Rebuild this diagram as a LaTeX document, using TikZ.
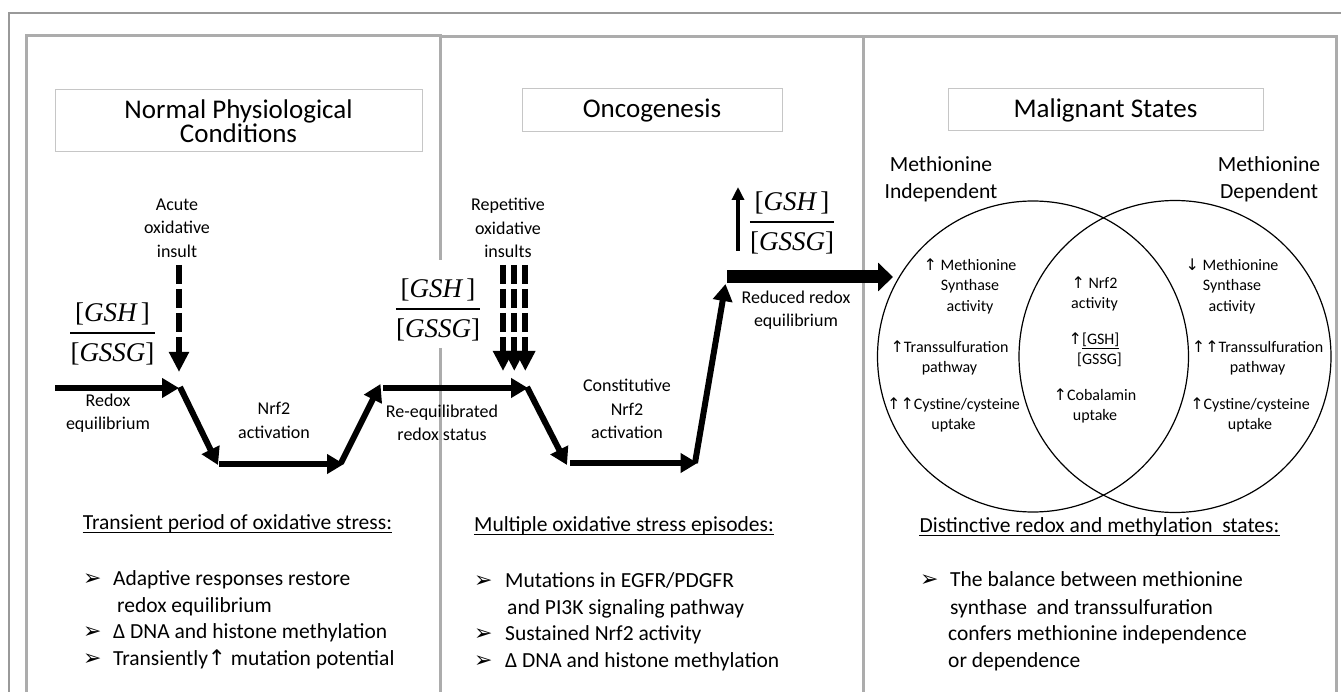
\documentclass[tikz,border=0pt]{standalone}
\usepackage{fontspec}
\setmainfont{Carlito}
\newfontfamily\symfont{DejaVu Sans}
\newfontfamily\arrfont{DejaVu Sans ExtraLight}
\newfontfamily\tmsfont{Liberation Serif}
\usetikzlibrary{arrows.meta,calc}
\newcommand{\ua}{{\symfont ↑}}
\newcommand{\da}{{\symfont ↓}}
\newcommand{\gsratio}[3]{%
  \node[ratio, anchor=south] (#1n) at (#2,#3-8) {[\textit{GSH}\kern3pt]};
  \node[ratio, anchor=north] (#1d) at (#2,#3+10) {[\textit{GSSG}]};
  \draw[line width=1.4pt] ($(#1d.north west)+(0,-10)$) -- ($(#1d.north east)+(0,-10)$);
}
\begin{document}
\begin{tikzpicture}[x=1pt,y=-1pt,
  frame/.style={draw=gray!65, line width=3pt},
  outer/.style={draw=gray!80, line width=1.2pt},
  titlebox/.style={draw=gray!45, line width=1pt, inner sep=0pt, align=center,
    font={\fontsize{27}{24.5}\selectfont\lineskiplimit=-50pt}},
  lbl/.style={inner sep=0pt, align=center, font=\fontsize{18}{23.5}\selectfont},
  venn/.style={inner sep=0pt, align=center, font=\fontsize{16}{20.5}\selectfont},
  vhead/.style={inner sep=0pt, align=center, font=\fontsize{21.6}{27}\selectfont},
  bhead/.style={inner sep=0pt, anchor=base, font=\fontsize{21.5}{27}\selectfont},
  btxt/.style={inner sep=0pt, anchor=base west, font=\fontsize{21.5}{27}\selectfont},
  bmark/.style={inner sep=0pt, anchor=base west, font=\fontsize{22}{27}\selectfont\symfont},
  ratio/.style={inner sep=0pt, font=\fontsize{27}{30}\selectfont\tmsfont},
  vcirc/.style={circle, draw, line width=1.2pt, inner sep=0pt},
  flow/.style={line width=6pt, -{Triangle[length=17pt,width=19pt]}},
  insult/.style={line width=6pt, dash pattern=on 19pt off 5pt, -{Triangle[length=20pt,width=19pt]}},
  surge/.style={line width=13pt, -{Triangle[length=15pt,width=28pt]}},
  risearrow/.style={line width=4.5pt, -{Triangle[length=13pt,width=12pt]}}
]
\useasboundingbox (0,0) rectangle (1341,692);
% frames
\draw[outer] (9,692) -- (9,13) -- (1341,13);
\draw[frame] (26.5,692) -- (26.5,35.5) -- (441.5,35.5);
\draw[frame] (440,36.5) -- (863,36.5) -- (863,692);
\draw[frame] (440,35.5) -- (440,260);
\draw[frame] (440,348) -- (440,692);
\draw[frame] (863,37) -- (1336,37) -- (1336,692);

% title boxes
\node[titlebox, minimum width=367pt, minimum height=62pt] (ttl1) at (238.5,121) {Normal Physiological\\Conditions};
\node[titlebox, minimum width=260pt, minimum height=43pt] (ttl2) at (652,110.5) {Oncogenesis};
\node[titlebox, minimum width=315pt, minimum height=42pt] (ttl3) at (1105.5,110) {Malignant States};

% path coordinates
\coordinate (a1s) at (55,388);   \coordinate (a1e) at (179,388);
\coordinate (a2s) at (180,387);  \coordinate (a2e) at (218,465);
\coordinate (a3s) at (219,464);  \coordinate (a3e) at (344,464);
\coordinate (a4s) at (341,463);  \coordinate (a4e) at (380.5,384);
\coordinate (a5s) at (383,388);  \coordinate (a5e) at (528,388);
\coordinate (a6s) at (527,387);  \coordinate (a6e) at (567,465);
\coordinate (a7s) at (570,463);  \coordinate (a7e) at (697.5,463);
\coordinate (a8s) at (695,463);  \coordinate (a8e) at (725.5,284);
\coordinate (a9s) at (727,277);  \coordinate (a9e) at (893,277);
\coordinate (a10s) at (738,251); \coordinate (a10e) at (738,187);
\coordinate (d1s) at (179,265);  \coordinate (d1e) at (179,372);
\coordinate (d2s) at (503,265);  \coordinate (d2e) at (503,371);
\coordinate (d3s) at (514.3,265);  \coordinate (d3e) at (514.3,371);
\coordinate (d4s) at (525.3,265);  \coordinate (d4e) at (525.3,371);

\draw[flow] (a1s) -- (a1e);
\draw[flow] (a2s) -- (a2e);
\draw[flow] (a3s) -- (a3e);
\draw[flow] (a4s) -- (a4e);
\draw[flow] (a5s) -- (a5e);
\draw[flow] (a6s) -- (a6e);
\draw[flow] (a7s) -- (a7e);
\draw[flow] (a8s) -- (a8e);
\draw[surge] (a9s) -- (a9e);
\draw[risearrow] (a10s) -- (a10e);
\draw[insult] (d1s) -- (d1e);
\draw[insult] (d2s) -- (d2e);
\draw[insult] (d3s) -- (d3e);
\draw[insult] (d4s) -- (d4e);

% ratios
\gsratio{ra}{112.5}{333}
\gsratio{rb}{438}{309}
\gsratio{rc}{792}{222}

% labels
\node[lbl] (acute) at (177,228) {Acute\\oxidative\\insult};
\node[lbl] (rep) at (508,228) {Repetitive\\oxidative\\insults};
\node[lbl] (redox) at (108,413) {Redox\\equilibrium};
\node[lbl] (nrf) at (274,420.5) {Nrf2\\activation};
\node[lbl] (reeq) at (442,423) {Re-equilibrated\\redox status};
\node[lbl] (const) at (627,409) {Constitutive\\Nrf2\\activation};
\node[lbl] (reduced) at (796,310) {Reduced redox\\equilibrium};

% venn
\node[vcirc, minimum size=311pt] (vennL) at (1033,356.5) {};
\node[vcirc, minimum size=312pt] (vennR) at (1175,356.5) {};
\node[vhead] (mi) at (941,179) {Methionine\\Independent};
\node[vhead] (md) at (1269,179) {Methionine\\Dependent};
\node[venn] (l1) at (970,286) {\ua\ Methionine\\Synthase\\activity};
\node[venn] (l2) at (949.5,358) {\ua Transsulfuration\\pathway};
\node[venn] (l3) at (953.5,415) {\ua\ua Cystine/cysteine\\uptake};
\node[venn] (c1) at (1094.5,294) {\ua\ Nrf2\\activity};
\node[venn, anchor=base] (c2) at (1094,345) {\ua\underline{[GSH]}};
\node[venn, anchor=base] (c3) at (1099.5,365) {[GSSG]};
\node[venn] (c4) at (1095,406) {\ua Cobalamin\\uptake};
\node[venn] (r1) at (1232,286) {\da\ Methionine\\Synthase\\activity};
\node[venn] (r2) at (1257.5,358) {\ua\ua Transsulfuration\\pathway};
\node[venn] (r3) at (1250,415) {\ua Cystine/cysteine\\uptake};

% bottom headings
\node[bhead] (h1) at (237.5,529) {Transient period of oxidative stress:};
\draw[line width=1pt] ($(h1.base west)+(0,3)$) -- ($(h1.base east)+(0,3)$);
\node[bhead] (h2) at (624,531) {Multiple oxidative stress episodes:};
\draw[line width=1pt] ($(h2.base west)+(0,3)$) -- ($(h2.base east)+(0,3)$);
\node[bhead] (h3) at (1099.5,532) {Distinctive redox and methylation\ \ states:};
\draw[line width=1pt] ($(h3.base west)+(0,3)$) -- ($(h3.base east)+(0,3)$);

% bullets panel 1
\node[bmark] (b11) at (83,585) {➢};
\node[btxt] (x11) at (113,585) {Adaptive responses restore};
\node[btxt] (x12) at (117,612) {redox equilibrium};
\node[bmark] (b13) at (83,638) {➢};
\node[btxt] (x13) at (113,638) {Δ DNA and histone methylation};
\node[bmark] (b14) at (83,665) {➢};
\node[btxt] (x14) at (113,665) {Transiently\ua\ mutation potential};
% bullets panel 2
\node[bmark] (b21) at (474,587) {➢};
\node[btxt] (x21) at (505,587) {Mutations in EGFR/PDGFR};
\node[btxt] (x22) at (507,614) {and PI3K signaling pathway};
\node[bmark] (b23) at (474,640) {➢};
\node[btxt] (x23) at (505,640) {Sustained Nrf2 activity};
\node[bmark] (b24) at (474,667) {➢};
\node[btxt] (x24) at (505,667) {Δ DNA and histone methylation};
% bullets panel 3
\node[bmark] (b31) at (920,586) {➢};
\node[btxt] (x31) at (950,586) {The balance between methionine};
\node[btxt] (x32) at (950,614) {synthase\ \ and transsulfuration};
\node[btxt] (x33) at (948,640) {confers methionine independence};
\node[btxt] (x34) at (948,667) {or dependence};
\end{tikzpicture}
\end{document}
